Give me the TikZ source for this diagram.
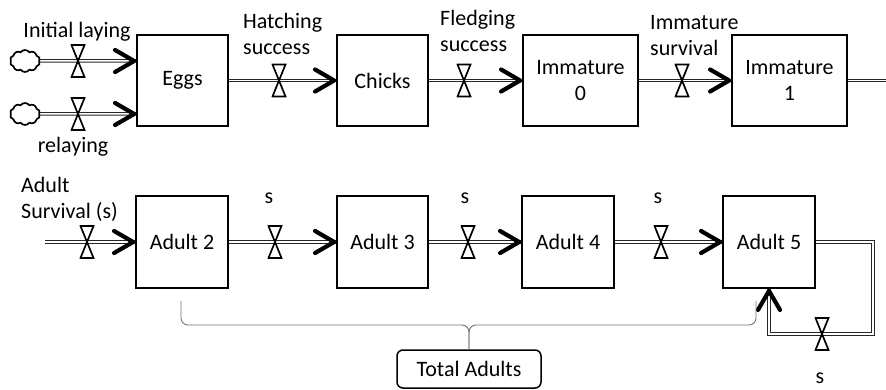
\documentclass[tikz,border=0pt]{standalone}
\usepackage{fontspec}
\setmainfont{Carlito}
\usetikzlibrary{shapes.symbols,calc}
\pgfdeclarelayer{bg}
\pgfsetlayers{bg,main}
\tikzset{
  stock/.style={draw, line width=1.8pt, inner sep=0pt, minimum height=91pt, align=center},
  pipe/.style={draw=black!85, line width=1pt, double=white, double distance=1.5pt},
  valve/.style={inner sep=0pt, minimum width=15pt, minimum height=34pt, path picture={
     \draw[line width=1.7pt, fill=white]
       ([shift={(1pt,-1pt)}]path picture bounding box.north west) --
       ([shift={(-1pt,-1pt)}]path picture bounding box.north east) --
       ([shift={(1pt,1pt)}]path picture bounding box.south west) --
       ([shift={(-1pt,1pt)}]path picture bounding box.south east) -- cycle;}},
  chev/.style={line width=4.2pt, line join=round, line cap=round},
  chevron/.pic={\draw[chev] (-21,-11) -- (-2,0) -- (-21,11);},
  source/.style={cloud, cloud puffs=10, cloud puff arc=110, aspect=1.4, draw, line width=1.7pt, minimum width=30pt, minimum height=22pt, inner sep=0pt},
  lbl/.style={inner sep=0pt, align=left},
  brace/.style={draw=black!55, line width=0.9pt, rounded corners=7pt},
  every node/.append style={font=\fontsize{22}{26}\selectfont},
}
\begin{document}
\begin{tikzpicture}[x=1pt,y=-1pt]
\useasboundingbox (0,0) rectangle (886,390);
% stocks
\node[stock, minimum width=91pt] (eggs) at (182.5,80.5) {Eggs};
\node[stock, minimum width=91pt] (chicks) at (382.5,80.5) {Chicks};
\node[stock, minimum width=115pt] (imm0) at (580.5,80.5) {Immature\\0};
\node[stock, minimum width=115pt] (imm1) at (789.5,80.5) {Immature\\1};
\node[stock, minimum width=92pt, minimum height=92pt] (ad2) at (182,242) {Adult 2};
\node[stock, minimum width=91pt, minimum height=92pt] (ad3) at (382.5,242) {Adult 3};
\node[stock, minimum width=92pt, minimum height=92pt] (ad4) at (568,242) {Adult 4};
\node[stock, minimum width=92pt, minimum height=92pt] (ad5) at (769,242) {Adult 5};
\node[draw, line width=1.5pt, rounded corners=6pt, minimum width=144pt, minimum height=38pt, inner sep=0pt] (total) at (469,369) {Total Adults};
% sources
\node[source] (c1) at (25,61) {};
\node[source] (c2) at (25,114) {};
% valves
\node[valve] (v0) at (78,61) {};
\node[valve] (v1) at (78,114) {};
\node[valve] (vh) at (279,80.5) {};
\node[valve] (vf) at (464,80.5) {};
\node[valve] (vi) at (682,80.5) {};
\node[valve] (va) at (87,242) {};
\node[valve] (vs1) at (275,242) {};
\node[valve] (vs2) at (468,242) {};
\node[valve] (vs3) at (661,242) {};
\node[valve] (vl) at (822,334) {};
% free ends
\coordinate (outR) at (886,80.5);
\coordinate (inA) at (45,242);
\coordinate (lc) at (873,334);
% pipes
\begin{pgfonlayer}{bg}
\draw[pipe] (c1) -- (v0.center) -- (eggs.west |- v0);
\draw[pipe] (c2) -- (v1.center) -- (eggs.west |- v1);
\draw[pipe] (eggs) -- (vh.center) -- (chicks);
\draw[pipe] (chicks) -- (vf.center) -- (imm0);
\draw[pipe] (imm0) -- (vi.center) -- (imm1);
\draw[pipe] (imm1) -- (outR);
\draw[pipe] (inA) -- (va.center) -- (ad2);
\draw[pipe] (ad2) -- (vs1.center) -- (ad3);
\draw[pipe] (ad3) -- (vs2.center) -- (ad4);
\draw[pipe] (ad4) -- (vs3.center) -- (ad5);
\draw[pipe] (ad5.east) -| (lc) -- (vl.center) -- (vl.center -| ad5.south) -- (ad5.south);
\end{pgfonlayer}
% arrowheads
\pic at (eggs.west |- v0) {chevron};
\pic at (eggs.west |- v1) {chevron};
\pic at (chicks.west) {chevron};
\pic at (imm0.west) {chevron};
\pic at (imm1.west) {chevron};
\pic at (ad2.west) {chevron};
\pic at (ad3.west) {chevron};
\pic at (ad4.west) {chevron};
\pic at (ad5.west) {chevron};
\pic[rotate=90] at (ad5.south) {chevron};
% brace to total
\coordinate (bl) at ([xshift=-1pt,yshift=-12pt]ad2.south);
\coordinate (br) at ([xshift=-13pt,yshift=-12pt]ad5.south);
\coordinate (bm) at (total.north |- 0,325);
\draw[brace] (bl) -- (bl |- bm) -- (bm) -- (total.north);
\draw[brace] (br) -- (br |- bm) -- (bm) -- (total.north);
% labels
\node[lbl] (tInit) at (77,32) {Initial laying};
\node[lbl] (tRelay) at (73,147) {relaying};
\node[lbl, anchor=west] (tHatch) at (243,34) {Hatching\\success};
\node[lbl, anchor=west] (tFledge) at (440,31) {Fledging\\success};
\node[lbl, anchor=west] (tImm) at (650,36) {Immature\\survival};
\node[lbl, anchor=west] (tAdult) at (21,199) {Adult\\Survival (s)};
\node[lbl] (s1) at (269,198) {s};
\node[lbl] (s2) at (465,198) {s};
\node[lbl] (s3) at (658,198) {s};
\node[lbl] (s4) at (820,378) {s};
\end{tikzpicture}
\end{document}
